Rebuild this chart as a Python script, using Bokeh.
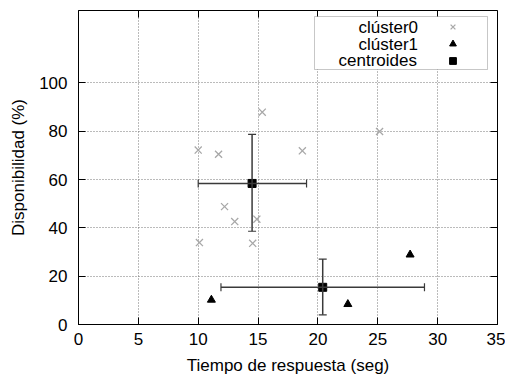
from bokeh.plotting import figure
from bokeh.models import (Range1d, FixedTicker, LinearAxis, ColumnDataSource, Whisker,
                          TeeHead, Legend, LegendItem, Label, BoxAnnotation, CustomLabelingPolicy)
from bokeh.core.properties import value
from bokeh.embed import file_html
from bokeh.resources import INLINE

# ---- data ----
cluster0_x = [10.0, 11.7, 15.35, 18.7, 25.15, 12.2, 13.05, 14.9, 10.1, 14.55]
cluster0_y = [72.2, 70.5, 87.9, 71.9, 79.9, 48.8, 42.6, 43.6, 33.9, 33.6]
cluster1_x = [11.1, 22.5, 27.7]
cluster1_y = [10.2, 8.4, 28.9]
centroid_x = [14.5, 20.4]
centroid_y = [58.4, 15.4]
centroid_x_low = [10.0, 11.9]
centroid_x_high = [19.05, 28.9]
centroid_y_low = [38.6, 4.0]
centroid_y_high = [78.7, 27.1]
legend_labels = ["clúster0", "clúster1", "centroides"]
x_ticks = [0, 5, 10, 15, 20, 25, 30, 35]
y_ticks = [0, 20, 40, 60, 80, 100]
X_MIN, X_MAX, Y_MIN, Y_MAX = 0, 35, 0, 130

FONT = "Liberation Sans"
FS = "17px"

p = figure(width=505, height=377, output_backend="svg", toolbar_location=None,
           x_range=Range1d(X_MIN, X_MAX), y_range=Range1d(Y_MIN, Y_MAX),
           min_border_left=78, min_border_right=8, min_border_top=10, min_border_bottom=53,
           x_axis_label="Tiempo de respuesta (seg)", y_axis_label="Disponibilidad (%)")
p.background_fill_color = "white"
p.border_fill_color = "white"
p.outline_line_color = "black"
p.outline_line_width = 1

for ax, ticks in ((p.xaxis[0], x_ticks), (p.yaxis[0], y_ticks)):
    ax.ticker = FixedTicker(ticks=ticks)
    ax.major_tick_in = 7
    ax.major_tick_out = 0
    ax.minor_tick_line_color = None
    ax.axis_line_color = "black"
    ax.major_tick_line_color = "black"
    ax.major_label_text_font = FONT
    ax.major_label_text_font_size = FS
    ax.major_label_text_color = "black"
    ax.axis_label_text_font = FONT
    ax.axis_label_text_font_size = FS
    ax.axis_label_text_font_style = "normal"
    ax.axis_label_text_color = "black"

p.xaxis[0].major_label_standoff = 8
p.xaxis[0].axis_label_standoff = 8
p.yaxis[0].major_label_standoff = 11
p.yaxis[0].axis_label_standoff = 8

# mirror ticks (top and right), no labels
no_labels = "for (const i of Array.from(indices)) { indices.unset(i) }; return indices"
top_ax = LinearAxis(ticker=FixedTicker(ticks=x_ticks), major_tick_in=7, major_tick_out=0,
                    minor_tick_line_color=None, major_label_standoff=0, axis_line_color="black",
                    fixed_location=Y_MAX,
                    major_label_policy=CustomLabelingPolicy(code=no_labels))
right_ax = LinearAxis(ticker=FixedTicker(ticks=y_ticks), major_tick_in=7, major_tick_out=0,
                      minor_tick_line_color=None, major_label_standoff=0, axis_line_color="black",
                      fixed_location=X_MAX,
                      major_label_policy=CustomLabelingPolicy(code=no_labels))
p.add_layout(top_ax, "above")
p.add_layout(right_ax, "right")

for g in (p.xgrid[0], p.ygrid[0]):
    g.grid_line_color = "#777777"
    g.grid_line_dash = "1 2"
    g.grid_line_width = 1
p.xgrid[0].ticker = FixedTicker(ticks=x_ticks)
p.ygrid[0].ticker = FixedTicker(ticks=y_ticks)

# error bars
err = ColumnDataSource(dict(x=centroid_x, y=centroid_y, xl=centroid_x_low, xh=centroid_x_high,
                            yl=centroid_y_low, yh=centroid_y_high))
EC = "#3a3a3a"
wy = Whisker(source=err, base="x", lower="yl", upper="yh", dimension="height",
             line_color=EC, line_width=1.5,
             upper_head=TeeHead(size=8, line_color=EC, line_width=1.2),
             lower_head=TeeHead(size=8, line_color=EC, line_width=1.2))
wx = Whisker(source=err, base="y", lower="xl", upper="xh", dimension="width",
             line_color=EC, line_width=1.5,
             upper_head=TeeHead(size=8, line_color=EC, line_width=1.2),
             lower_head=TeeHead(size=8, line_color=EC, line_width=1.2))
wy.level = "glyph"
wx.level = "glyph"
p.add_layout(wy)
p.add_layout(wx)

r0 = p.scatter(cluster0_x, cluster0_y, marker="x", size=10, line_color="#a8a8a8", line_width=1.3)
r1 = p.scatter(cluster1_x, cluster1_y, marker="triangle", size=8, fill_color="black", line_color="black")
r2 = p.scatter(centroid_x, centroid_y, marker="square", size=8, fill_color="black", line_color="black")

# legend box
box = BoxAnnotation(left=236, right=409, top=308, bottom=255,
                    left_units="screen", right_units="screen", top_units="screen", bottom_units="screen",
                    fill_color="white", fill_alpha=1.0, line_color="#444444", line_width=1)
p.add_layout(box)

label_left = [280, 280, 260]
label_y = [297, 280.3, 263.7]
for txt, lx, ly in zip(legend_labels, label_left, label_y):
    p.add_layout(Label(x=lx, y=ly, x_units="screen", y_units="screen", text=txt,
                       text_font=FONT, text_font_size=FS, text_align="left",
                       text_baseline="middle", text_color="black"))

sym_legend = Legend(items=[LegendItem(label=value(""), renderers=[r]) for r in (r0, r1, r2)],
                    location=(366, 255), orientation="vertical", padding=0, margin=0, spacing=0,
                    glyph_width=17, glyph_height=17, label_width=0, label_height=17,
                    label_standoff=0, label_text_font_size="8px",
                    border_line_color=None, background_fill_alpha=0)
p.add_layout(sym_legend)

open("out.html", "w").write(file_html(p, INLINE))
